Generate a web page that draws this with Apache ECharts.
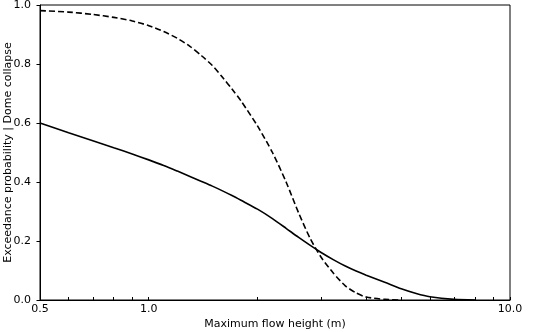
<!DOCTYPE html>
<html>
  <head>
    <meta charset="utf-8" />
    <title>Exceedance probability</title>
    <script src="https://cdn.jsdelivr.net/npm/echarts@6/dist/echarts.min.js"></script>
    <style>
      body { margin: 0; background: #fff; }
      #chart { width: 540px; height: 332px; }
    </style>
  </head>
  <body>
    <div id="chart"></div>
    <script>
      // flow heights (m)
      const heights = [0.5, 0.6, 0.7, 0.8, 0.9, 1.0, 1.1, 1.2, 1.3, 1.4, 1.5, 1.6, 1.7, 1.8, 2.0, 2.2, 2.4, 2.6, 2.8, 3.0, 3.25, 3.5, 3.75, 4.0, 4.5, 5.0, 5.5, 6.0, 7.0, 8.0];
      const solidProb = [0.600, 0.567, 0.540, 0.516, 0.495, 0.475, 0.456, 0.437, 0.419, 0.402, 0.386, 0.370, 0.354, 0.338, 0.308, 0.276, 0.243, 0.212, 0.185, 0.161, 0.136, 0.115, 0.098, 0.084, 0.060, 0.038, 0.022, 0.011, 0.002, 0.0];
      const dashedProb = [0.981, 0.976, 0.968, 0.958, 0.946, 0.930, 0.910, 0.887, 0.860, 0.828, 0.795, 0.755, 0.715, 0.675, 0.590, 0.500, 0.400, 0.295, 0.208, 0.145, 0.090, 0.048, 0.024, 0.010, 0.002, 0.0, null, null, null, null];
      const xLabels = [0.5, 1, 10];
      const xMinorTicks = [0.5, 0.6, 0.7, 0.8, 0.9, 1, 2, 3, 4, 5, 6, 7, 8, 9, 10];

      const font = 'DejaVu Sans';
      const chart = echarts.init(document.getElementById('chart'));

      const pairs = ys => heights.map((x, i) => [x, ys[i]]);

      chart.setOption({
        animation: false,
        grid: {
          left: 40, right: 30, top: 5, bottom: 32,
          outerBoundsMode: 'none',
          containLabel: false,
          show: true, borderColor: '#000', borderWidth: 1
        },
        xAxis: {
          type: 'log',
          logBase: 10,
          min: 0.5,
          max: 10,
          name: 'Maximum flow height (m)',
          nameLocation: 'middle',
          nameGap: 19,
          nameMoveOverlap: false,
          nameTextStyle: { fontFamily: font, fontSize: 11, color: '#000' },
          axisLine: { lineStyle: { color: '#000', width: 1 } },
          axisTick: { show: true, inside: true, length: 3, customValues: xMinorTicks, lineStyle: { color: '#000' } },
          axisLabel: {
            customValues: xLabels,
            formatter: v => Number(v).toFixed(1),
            fontFamily: font, fontSize: 11, color: '#000', margin: 4
          },
          splitLine: { show: false },
          minorTick: { show: false }
        },
        yAxis: {
          type: 'value',
          min: 0,
          max: 1,
          interval: 0.2,
          name: 'Exceedance probability | Dome collapse',
          nameLocation: 'middle',
          nameGap: 26,
          nameMoveOverlap: false,
          nameTextStyle: { fontFamily: font, fontSize: 11, color: '#000' },
          axisLine: { show: true, lineStyle: { color: '#000', width: 1 } },
          axisTick: { show: true, length: 3.5, lineStyle: { color: '#000' } },
          axisLabel: {
            formatter: v => v.toFixed(1),
            fontFamily: font, fontSize: 11, color: '#000', margin: 9
          },
          splitLine: { show: false }
        },
        series: [
          {
            type: 'line',
            data: pairs(dashedProb),
            smooth: 0.25,
            showSymbol: false,
            connectNulls: false,
            lineStyle: { color: '#000', width: 1.6, type: [6, 3] }
          },
          {
            type: 'line',
            data: pairs(solidProb),
            smooth: 0.25,
            showSymbol: false,
            lineStyle: { color: '#000', width: 1.6, type: 'solid' }
          }
        ]
      });
    </script>
  </body>
</html>
